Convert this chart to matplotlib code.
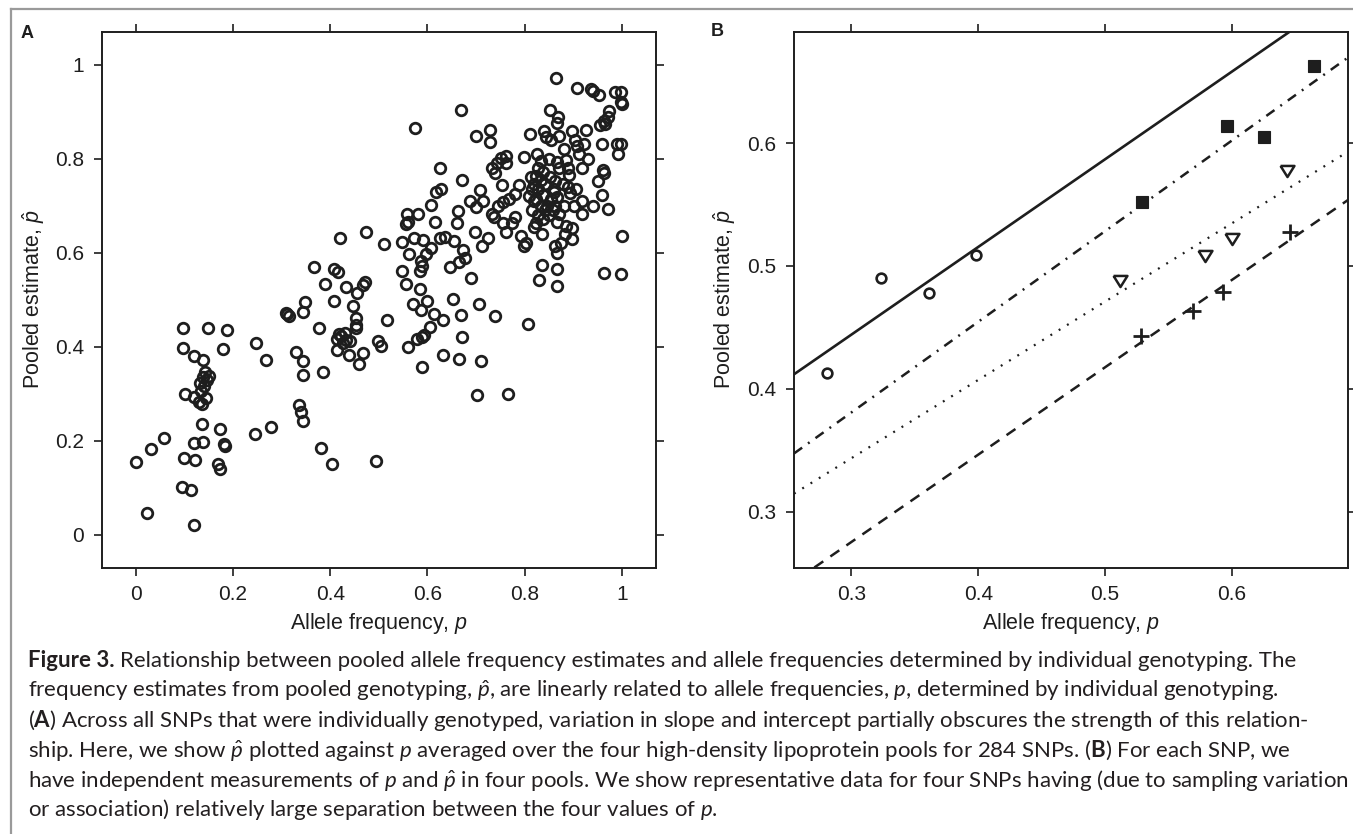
import matplotlib
matplotlib.use('Agg')
import matplotlib.pyplot as plt
from matplotlib.lines import Line2D

plt.rcParams['font.family'] = 'Liberation Sans'
plt.rcParams['mathtext.fontset'] = 'custom'
plt.rcParams['mathtext.rm'] = 'Lato'
plt.rcParams['mathtext.it'] = 'Liberation Sans:italic'
plt.rcParams['mathtext.bf'] = 'Lato:bold'
plt.rcParams['mathtext.cal'] = 'Lato:italic'
plt.rcParams['lines.scale_dashes'] = False

INK = '#1e1e1e'

# ---------------- Panel A data: (p, p_hat) averaged over four pools ----------------
a_pts = [
    (0.000,0.155),(0.032,0.183),(0.058,0.206),(0.023,0.046),(0.097,0.439),(0.097,0.397),
    (0.119,0.380),(0.138,0.371),(0.101,0.299),(0.119,0.293),(0.138,0.336),(0.147,0.330),
    (0.141,0.317),(0.132,0.322),(0.150,0.338),(0.136,0.277),(0.145,0.290),(0.130,0.283),
    (0.148,0.439),(0.188,0.436),(0.179,0.394),(0.136,0.236),(0.173,0.225),(0.119,0.195),
    (0.138,0.196),(0.184,0.188),(0.181,0.192),(0.099,0.164),(0.122,0.158),(0.170,0.151),
    (0.173,0.140),(0.095,0.101),(0.113,0.094),(0.119,0.020),(0.143,0.345),(0.134,0.305),
    (0.248,0.407),(0.267,0.372),(0.246,0.215),(0.278,0.230),(0.312,0.469),(0.315,0.465),
    (0.310,0.472),(0.345,0.474),(0.349,0.494),(0.329,0.389),(0.345,0.369),(0.343,0.340),
    (0.335,0.276),(0.340,0.260),(0.343,0.241),(0.366,0.570),(0.377,0.439),(0.386,0.346),
    (0.389,0.533),(0.381,0.184),(0.403,0.151),(0.407,0.565),(0.416,0.559),(0.421,0.631),
    (0.407,0.498),(0.432,0.526),(0.446,0.487),(0.453,0.461),(0.455,0.513),(0.471,0.537),
    (0.467,0.532),(0.474,0.644),(0.414,0.417),(0.423,0.422),(0.430,0.430),(0.426,0.408),
    (0.433,0.413),(0.441,0.411),(0.414,0.393),(0.438,0.382),(0.453,0.439),(0.467,0.387),
    (0.460,0.363),(0.494,0.157),(0.499,0.411),(0.504,0.402),(0.510,0.618),(0.517,0.456),
    (0.419,0.426),(0.453,0.445),
    (0.548,0.561),(0.555,0.533),(0.547,0.622),(0.557,0.683),(0.559,0.666),(0.555,0.660),
    (0.575,0.866),(0.561,0.596),(0.570,0.491),(0.559,0.400),(0.581,0.683),(0.572,0.631),
    (0.591,0.627),(0.586,0.583),(0.588,0.571),(0.585,0.560),(0.584,0.522),(0.586,0.478),
    (0.579,0.417),(0.588,0.420),(0.593,0.425),(0.588,0.356),(0.596,0.597),(0.600,0.497),
    (0.607,0.609),(0.608,0.701),(0.605,0.442),(0.614,0.469),(0.616,0.666),(0.618,0.729),
    (0.627,0.736),(0.626,0.779),(0.626,0.631),(0.632,0.456),(0.632,0.382),(0.637,0.633),
    (0.655,0.624),(0.646,0.570),(0.653,0.502),(0.660,0.662),(0.663,0.688),(0.665,0.373),
    (0.668,0.467),(0.671,0.420),(0.672,0.755),(0.669,0.903),(0.665,0.579),(0.674,0.605),
    (0.678,0.589),(0.689,0.545),(0.697,0.644),(0.702,0.298),(0.706,0.491),(0.710,0.369),
    (0.688,0.710),(0.699,0.696),(0.708,0.733),(0.715,0.710),(0.700,0.849),(0.729,0.860),
    (0.729,0.836),(0.712,0.615),(0.724,0.631),(0.733,0.683),(0.737,0.675),(0.738,0.465),
    (0.733,0.779),(0.738,0.770),(0.752,0.801),(0.761,0.805),(0.744,0.790),(0.761,0.790),
    (0.754,0.744),(0.756,0.707),(0.756,0.662),(0.761,0.644),(0.765,0.299),(0.779,0.676),
    (0.774,0.663),(0.789,0.744),(0.793,0.635),(0.798,0.613),(0.802,0.621),(0.798,0.803),
    (0.807,0.448),(0.810,0.853),(0.816,0.736),(0.820,0.710),(0.745,0.700),(0.768,0.715),
    (0.781,0.724),
    (0.826,0.810),(0.833,0.795),(0.828,0.780),(0.837,0.772),(0.824,0.763),(0.833,0.754),
    (0.842,0.745),(0.828,0.736),(0.837,0.723),(0.824,0.714),(0.833,0.700),(0.842,0.690),
    (0.828,0.681),(0.837,0.672),(0.824,0.663),(0.846,0.700),(0.851,0.760),(0.855,0.715),
    (0.849,0.680),(0.858,0.690),(0.860,0.730),(0.835,0.640),(0.820,0.655),(0.815,0.690),
    (0.839,0.858),(0.844,0.845),(0.835,0.574),(0.830,0.541),(0.867,0.528),(0.867,0.565),
    (0.867,0.600),(0.862,0.613),(0.853,0.903),(0.869,0.888),(0.867,0.875),(0.865,0.971),
    (0.871,0.849),(0.867,0.792),(0.871,0.779),(0.862,0.753),(0.860,0.736),(0.867,0.718),
    (0.862,0.700),(0.871,0.683),(0.867,0.666),(0.885,0.797),(0.890,0.779),(0.888,0.740),
    (0.894,0.727),(0.885,0.657),(0.897,0.653),(0.897,0.629),(0.901,0.700),(0.897,0.858),
    (0.903,0.840),(0.908,0.827),(0.908,0.951),(0.912,0.810),(0.917,0.779),(0.921,0.832),
    (0.926,0.860),(0.931,0.799),(0.917,0.710),(0.917,0.683),(0.936,0.949),(0.941,0.944),
    (0.941,0.700),(0.952,0.935),(0.950,0.753),(0.959,0.723),(0.961,0.775),(0.964,0.770),
    (0.954,0.871),(0.963,0.880),(0.972,0.888),(0.966,0.873),(0.959,0.832),(0.963,0.557),
    (0.971,0.692),(0.974,0.901),(0.986,0.941),(0.998,0.941),(0.991,0.810),(0.989,0.832),
    (0.999,0.920),(1.000,0.916),(0.998,0.832),(0.999,0.554),(1.000,0.635),(0.880,0.700),
    (0.878,0.745),(0.892,0.765),(0.905,0.735),(0.882,0.640),(0.875,0.620),(0.880,0.820),
    (0.855,0.840),(0.849,0.800),(0.820,0.745),(0.812,0.760),(0.808,0.720),
]
a_p = [pt[0] for pt in a_pts]
a_phat = [pt[1] for pt in a_pts]

a_ticks = [0, 0.2, 0.4, 0.6, 0.8, 1.0]
a_ticklabels = ['0', '0.2', '0.4', '0.6', '0.8', '1']

# ---------------- Panel B data: four SNPs, four pools each ----------------
b_circle_p = [0.281, 0.323, 0.361, 0.398]
b_circle_phat = [0.413, 0.490, 0.478, 0.509]
b_square_p = [0.529, 0.596, 0.625, 0.665]
b_square_phat = [0.552, 0.614, 0.605, 0.663]
b_tri_p = [0.512, 0.579, 0.600, 0.643]
b_tri_phat = [0.488, 0.508, 0.522, 0.577]
b_plus_p = [0.528, 0.569, 0.593, 0.646]
b_plus_phat = [0.443, 0.463, 0.479, 0.528]

# fitted lines (intercept, slope) for each SNP
b_line_solid = (0.2301, 0.7136)
b_line_dashdot = (0.1595, 0.7378)
b_line_dotted = (0.1524, 0.6373)
b_line_dashed = (0.0621, 0.7110)

b_ticks = [0.3, 0.4, 0.5, 0.6]
b_ticklabels = ['0.3', '0.4', '0.5', '0.6']

caption_bold_start = "Figure 3."
caption_lines = [
    r"Relationship between pooled allele frequency estimates and allele frequencies determined by individual genotyping. The",
    r"frequency estimates from pooled genotyping, $\hat{\mathcal{p}}$, are linearly related to allele frequencies, $\mathcal{p}$, determined by individual genotyping.",
    r"($\mathbf{A}$) Across all SNPs that were individually genotyped, variation in slope and intercept partially obscures the strength of this relation-",
    r"ship. Here, we show $\hat{\mathcal{p}}$ plotted against $\mathcal{p}$ averaged over the four high-density lipoprotein pools for 284 SNPs. ($\mathbf{B}$) For each SNP, we",
    r"have independent measurements of $\mathcal{p}$ and $\hat{\mathcal{p}}$ in four pools. We show representative data for four SNPs having (due to sampling variation",
    r"or association) relatively large separation between the four values of $\mathcal{p}$.",
]

# ---------------- Figure ----------------
W, H = 1353, 834
fig = plt.figure(figsize=(W / 100, H / 100), dpi=100)
fig.patch.set_facecolor('white')

def px_axes(l, t, r, b):
    return fig.add_axes([l / W, 1 - b / H, (r - l) / W, (b - t) / H])

axA = px_axes(101.7, 31.7, 656.0, 567.5)
axB = px_axes(794.0, 31.7, 1348.3, 567.5)

for ax in (axA, axB):
    for s in ax.spines.values():
        s.set_linewidth(1.4)
        s.set_color(INK)
    ax.tick_params(which='both', direction='out', length=5.5, width=1.2,
                   top=True, right=True, labeltop=False, labelright=False,
                   labelsize=15, pad=7, color=INK, labelcolor=INK)
    ax.set_xlabel(r'Allele frequency, $p$', fontsize=15.5, color=INK, labelpad=6)
    ax.set_ylabel(r'Pooled estimate, $\hat{p}$', fontsize=15.5, color=INK, labelpad=8)

# Panel A
axA.plot(a_p, a_phat, linestyle='none', marker='o', ms=7.6, mew=2.0,
         mfc='none', mec=INK)
axA.set_xlim(-0.07, 1.07)
axA.set_ylim(-0.07, 1.07)
axA.set_xticks(a_ticks)
axA.set_xticklabels(a_ticklabels)
axA.set_yticks(a_ticks)
axA.set_yticklabels(a_ticklabels)

# Panel B
axB.axline((0, b_line_solid[0]), slope=b_line_solid[1], color=INK, lw=1.9,
           linestyle='-')
axB.axline((0, b_line_dashdot[0]), slope=b_line_dashdot[1], color=INK, lw=1.8,
           linestyle=(0, (7.2, 5.2, 1.4, 5.2)))
axB.axline((0, b_line_dotted[0]), slope=b_line_dotted[1], color=INK, lw=1.6,
           linestyle=(0, (1.4, 5.6)))
axB.axline((0, b_line_dashed[0]), slope=b_line_dashed[1], color=INK, lw=1.8,
           linestyle=(0, (7.8, 6.2)))

tri_marker = [(-1, 0.8), (1, 0.8), (0, -0.8), (-1, 0.8)]
axB.plot(b_circle_p, b_circle_phat, linestyle='none', marker='o', ms=7.0,
         mew=1.9, mfc='white', mec=INK, zorder=3)
axB.plot(b_square_p, b_square_phat, linestyle='none', marker='s', ms=8.3,
         mew=0.8, mfc=INK, mec=INK, zorder=3)
axB.plot(b_tri_p, b_tri_phat, linestyle='none', marker=tri_marker, ms=10,
         mew=1.8, mfc='white', mec=INK, zorder=3)
axB.plot(b_plus_p, b_plus_phat, linestyle='none', marker='+', ms=11.5,
         mew=2.0, color=INK, zorder=3)
axB.set_xlim(0.2547, 0.6917)
axB.set_ylim(0.2546, 0.6907)
axB.set_xticks(b_ticks)
axB.set_xticklabels(b_ticklabels)
axB.set_yticks(b_ticks)
axB.set_yticklabels(b_ticklabels)

# Align axis labels to reference positions
axA.yaxis.set_label_coords((34 - 101.7) / (656 - 101.7), 0.5)
axB.yaxis.set_label_coords((725 - 794) / (1348.3 - 794), 0.5)
axA.xaxis.set_label_coords(0.5, 1 - (623.5 - 31.7) / (567.5 - 31.7))
axB.xaxis.set_label_coords(0.5, 1 - (623.5 - 31.7) / (567.5 - 31.7))
for ax in (axA, axB):
    ax.xaxis.label.set_va('center')
    ax.yaxis.label.set_va('center')

# Panel letters
fig.text(27 / W, 1 - 34 / H, 'A', ha='center', va='center',
         fontweight='bold', fontsize=13, color=INK)
fig.text(717 / W, 1 - 32 / H, 'B', ha='center', va='center',
         fontweight='bold', fontsize=13, color=INK)

# Frame lines
fig.add_artist(Line2D([11 / W, 1], [1 - 9 / H, 1 - 9 / H], transform=fig.transFigure,
                      color='#9a9a9a', lw=1.6))
fig.add_artist(Line2D([11 / W, 11 / W], [0, 1 - 9 / H], transform=fig.transFigure,
                      color='#9a9a9a', lw=1.6))

# Caption
CAP_X = 28
baselines = [667, 697, 727, 757, 787, 816]
bold_t = fig.text(CAP_X / W, 1 - baselines[0] / H, caption_bold_start, fontsize=13,
                  family='Lato', fontweight='bold', ha='left', va='baseline',
                  color='#231f20')
cap_texts = []
for i, line in enumerate(caption_lines):
    t = fig.text(CAP_X / W, 1 - baselines[i] / H, line, fontsize=13, family='Lato',
                 ha='left', va='baseline', color='#231f20')
    cap_texts.append(t)

fig.canvas.draw()
renderer = fig.canvas.get_renderer()
w5 = cap_texts[4].get_window_extent(renderer).width
new_size = 13 * (1345 - CAP_X) / w5
for t in cap_texts + [bold_t]:
    t.set_fontsize(new_size)
fig.canvas.draw()
bw = bold_t.get_window_extent(renderer).width
space_px = 0.22 * new_size * 100 / 72
cap_texts[0].set_x((CAP_X + bw + space_px) / W)

fig.savefig('out.png', dpi=100)
